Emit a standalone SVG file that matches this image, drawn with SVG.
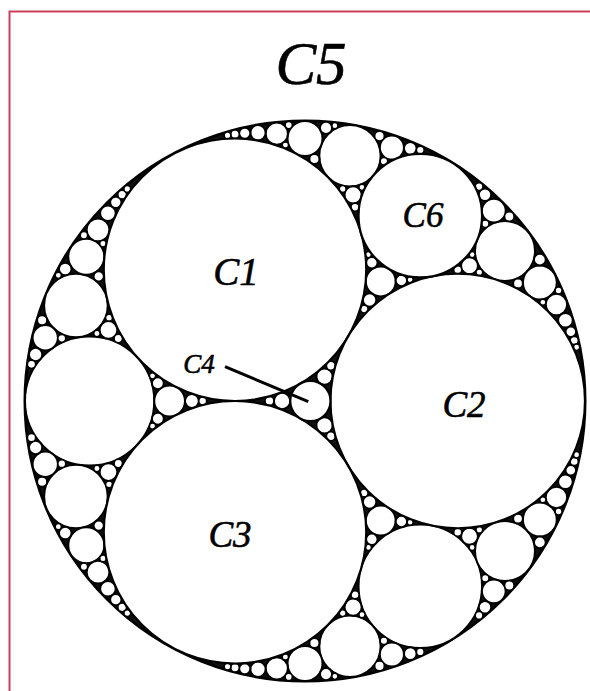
<svg xmlns="http://www.w3.org/2000/svg" width="590" height="691" viewBox="0 0 590 691">
<style>
.frame{fill:none;stroke:#c8405a;stroke-width:2}
.outer{fill:#111;stroke:#000;stroke-width:3}
circle.c{fill:#fff;stroke:#000;stroke-width:2.2}
.g circle{fill:#fff;stroke:#000;stroke-width:2}
.g .s circle, .g circle.s{stroke-width:1.5}
.lbl{font-family:"Liberation Serif","Times New Roman",serif;font-style:italic;fill:#000;stroke:#000;stroke-width:0.6;text-anchor:middle}
.lead{stroke:#000;stroke-width:3;fill:none}
</style>
<rect width="590" height="691" fill="#fff"/>
<path class="frame" d="M9.5,691 V11.5 H590"/>
<g id="C5">
<circle class="outer" cx="305" cy="401" r="280"/>
<text class="lbl" x="311" y="84" font-size="61">C5</text>
</g>
<g id="gasket" class="g">
<circle cx="89.62" cy="401" r="64.62"/>
<circle cx="420.29" cy="586.29" r="61.76"/>
<circle cx="169.62" cy="401" r="15.38"/>
<circle cx="191.90" cy="401" r="6.90"/>
<circle class="s" cx="202.71" cy="401" r="3.91"/>
<circle cx="282.08" cy="401" r="8.19"/>
<circle class="s" cx="269.44" cy="401" r="4.44"/>
<circle cx="349.96" cy="155.75" r="30.66"/><circle cx="349.96" cy="646.25" r="30.66"/>
<circle cx="380.73" cy="281.43" r="14.95"/><circle cx="380.73" cy="520.57" r="14.95"/>
<circle cx="505" cy="251" r="30"/><circle cx="505" cy="551" r="30"/>
<circle cx="391.90" cy="147.55" r="12.07"/><circle cx="391.90" cy="654.45" r="12.07"/>
<circle cx="305" cy="138.5" r="17.5"/><circle cx="305" cy="663.5" r="17.5"/>
<circle cx="353.10" cy="194.87" r="8.59"/><circle cx="353.10" cy="607.13" r="8.59"/>
<circle cx="371.83" cy="262.73" r="5.76"/><circle cx="371.83" cy="539.27" r="5.76"/>
<circle cx="369.62" cy="300.04" r="6.73"/><circle cx="369.62" cy="501.96" r="6.73"/>
<circle cx="401.39" cy="280.51" r="5.74"/><circle cx="401.39" cy="521.49" r="5.74"/>
<circle cx="493.78" cy="210.63" r="11.90"/><circle cx="493.78" cy="591.37" r="11.90"/>
<circle cx="539.84" cy="282.45" r="16.94"/><circle cx="539.84" cy="519.55" r="16.94"/>
<circle cx="469.51" cy="265.79" r="8.45"/><circle cx="469.51" cy="536.21" r="8.45"/>
<circle cx="410.26" cy="148.37" r="6.32"/><circle cx="410.26" cy="653.63" r="6.32"/>
<circle cx="326.04" cy="127.88" r="6.07"/><circle cx="326.04" cy="674.12" r="6.07"/>
<circle cx="276.78" cy="133.63" r="11.14"/><circle cx="276.78" cy="668.37" r="11.14"/>
<circle cx="314.41" cy="158.98" r="5.04"/><circle cx="314.41" cy="643.02" r="5.04"/>
<circle cx="485" cy="194.75" r="6.25"/><circle cx="485" cy="607.25" r="6.25"/>
<circle cx="539.84" cy="259.63" r="5.89"/><circle cx="539.84" cy="542.37" r="5.89"/>
<circle cx="556.43" cy="304.57" r="10.71"/><circle cx="556.43" cy="497.43" r="10.71"/>
<circle cx="518.02" cy="283.38" r="4.90"/><circle cx="518.02" cy="518.62" r="4.90"/>
<circle cx="257.99" cy="132.75" r="7.66"/><circle cx="257.99" cy="669.25" r="7.66"/>
<circle cx="244.76" cy="133.27" r="5.58"/><circle cx="244.76" cy="668.73" r="5.58"/>
<circle cx="565.42" cy="320.23" r="7.34"/><circle cx="565.42" cy="481.77" r="7.34"/>
<circle cx="570.79" cy="331.71" r="5.33"/><circle cx="570.79" cy="470.29" r="5.33"/>
<circle cx="75.91" cy="305.55" r="31.82"/><circle cx="75.91" cy="496.45" r="31.82"/>
<circle cx="45.24" cy="337.75" r="12.65"/><circle cx="45.24" cy="464.25" r="12.65"/>
<circle cx="86.29" cy="256.79" r="18.03"/><circle cx="86.29" cy="545.21" r="18.03"/>
<circle cx="108.47" cy="329.96" r="8.88"/><circle cx="108.47" cy="472.04" r="8.88"/>
<circle cx="157.88" cy="383.20" r="5.93"/><circle cx="157.88" cy="418.80" r="5.93"/>
<circle cx="35.63" cy="354.48" r="6.65"/><circle cx="35.63" cy="447.52" r="6.65"/>
<circle cx="42.14" cy="320.33" r="5.04"/><circle cx="42.14" cy="481.67" r="5.04"/>
<circle cx="65.24" cy="268.96" r="6.29"/><circle cx="65.24" cy="533.04" r="6.29"/>
<circle cx="98.04" cy="229.80" r="11.41"/><circle cx="98.04" cy="572.20" r="11.41"/>
<circle cx="98.72" cy="276.40" r="5.19"/><circle cx="98.72" cy="525.60" r="5.19"/>
<circle cx="107.91" cy="213.29" r="7.82"/><circle cx="107.91" cy="588.71" r="7.82"/>
<circle cx="115.81" cy="202.35" r="5.68"/><circle cx="115.81" cy="599.65" r="5.68"/>
<circle cx="324.53" cy="376.58" r="8.14"/><circle cx="324.53" cy="425.42" r="8.14"/>
<g class="s">
<circle cx="383.93" cy="161.21" r="3.75"/><circle cx="383.93" cy="640.79" r="3.75"/>
<circle cx="379.50" cy="136.09" r="4.82"/><circle cx="379.50" cy="665.91" r="4.82"/>
<circle cx="355.03" cy="207.34" r="4.03"/><circle cx="355.03" cy="594.66" r="4.03"/>
<circle cx="342.69" cy="188.98" r="3.37"/><circle cx="342.69" cy="613.02" r="3.37"/>
<circle cx="364.22" cy="309.11" r="3.83"/><circle cx="364.22" cy="492.89" r="3.83"/>
<circle cx="485.26" cy="223.69" r="3.69"/><circle cx="485.26" cy="578.31" r="3.69"/>
<circle cx="509.32" cy="216.54" r="4.73"/><circle cx="509.32" cy="585.46" r="4.73"/>
<circle cx="457.73" cy="269.75" r="3.98"/><circle cx="457.73" cy="532.25" r="3.98"/>
<circle cx="479.34" cy="272.23" r="3.30"/><circle cx="479.34" cy="529.77" r="3.30"/>
<circle cx="420.29" cy="150.08" r="3.86"/><circle cx="420.29" cy="651.92" r="3.86"/>
<circle cx="288.75" cy="125.06" r="3.58"/><circle cx="288.75" cy="676.94" r="3.58"/>
<circle cx="285.38" cy="145.10" r="3.20"/><circle cx="285.38" cy="656.90" r="3.20"/>
<circle cx="235.00" cy="134.27" r="4.23"/><circle cx="235.00" cy="667.73" r="4.23"/>
<circle cx="227.53" cy="135.39" r="3.32"/><circle cx="227.53" cy="666.61" r="3.32"/>
<circle cx="479.08" cy="186.60" r="3.83"/><circle cx="479.08" cy="615.40" r="3.83"/>
<circle cx="558.54" cy="290.57" r="3.45"/><circle cx="558.54" cy="511.43" r="3.45"/>
<circle cx="574.23" cy="340.42" r="4.04"/><circle cx="574.23" cy="461.58" r="4.04"/>
<circle cx="576.57" cy="347.23" r="3.16"/><circle cx="576.57" cy="454.77" r="3.16"/>
<circle cx="361.99" cy="187.28" r="3.10"/><circle cx="361.99" cy="614.72" r="3.10"/>
<circle cx="368.44" cy="254.59" r="3.05"/><circle cx="368.44" cy="547.41" r="3.05"/>
<circle cx="410.13" cy="279.70" r="3.03"/><circle cx="410.13" cy="522.30" r="3.03"/>
<circle cx="472.15" cy="254.59" r="3.05"/><circle cx="472.15" cy="547.41" r="3.05"/>
<circle cx="542.83" cy="302.25" r="3.09"/><circle cx="542.83" cy="499.75" r="3.09"/>
<circle cx="334.86" cy="125.64" r="3.03"/><circle cx="334.86" cy="676.36" r="3.03"/>
<circle cx="61.79" cy="338.37" r="3.91"/><circle cx="61.79" cy="463.63" r="3.91"/>
<circle cx="31.51" cy="364.37" r="4.07"/><circle cx="31.51" cy="437.63" r="4.07"/>
<circle cx="58.30" cy="275.35" r="3.14"/><circle cx="58.30" cy="526.65" r="3.14"/>
<circle cx="83.95" cy="235.21" r="3.68"/><circle cx="83.95" cy="566.79" r="3.68"/>
<circle cx="103.03" cy="243.62" r="3.28"/><circle cx="103.03" cy="558.38" r="3.28"/>
<circle cx="122.16" cy="194.65" r="4.30"/><circle cx="122.16" cy="607.35" r="4.30"/>
<circle cx="127.31" cy="188.98" r="3.37"/><circle cx="127.31" cy="613.02" r="3.37"/>
<circle cx="96.93" cy="333.57" r="3.21"/><circle cx="96.93" cy="468.43" r="3.21"/>
<circle cx="118.33" cy="338.5" r="4.17"/><circle cx="118.33" cy="463.5" r="4.17"/>
<circle cx="109.07" cy="317.63" r="3.47"/><circle cx="109.07" cy="484.37" r="3.47"/>
<circle cx="152.54" cy="375.87" r="3.14"/><circle cx="152.54" cy="426.13" r="3.14"/>
<circle cx="330.86" cy="365.74" r="4.41"/><circle cx="330.86" cy="436.26" r="4.41"/>
</g>
</g>
<g id="C1"><circle class="c" cx="235" cy="269.75" r="131.25"/><text class="lbl" x="236" y="285" font-size="39">C1</text></g>
<g id="C2"><circle class="c" cx="457.73" cy="401" r="127.27"/><text class="lbl" x="464" y="416.5" font-size="37">C2</text></g>
<g id="C3"><circle class="c" cx="235" cy="532.25" r="131.25"/><text class="lbl" x="230" y="546.5" font-size="37">C3</text></g>
<g id="C6"><circle class="c" cx="420.29" cy="215.71" r="61.76"/><text class="lbl" x="423" y="227" font-size="35">C6</text></g>
<g id="C4"><circle class="c" cx="310.36" cy="401" r="20.10"/><text class="lbl" x="199" y="373" font-size="27">C4</text></g>
<g id="connectors">
<line class="lead" x1="225" y1="366.7" x2="308.3" y2="401.7"/>
</g>
</svg>
